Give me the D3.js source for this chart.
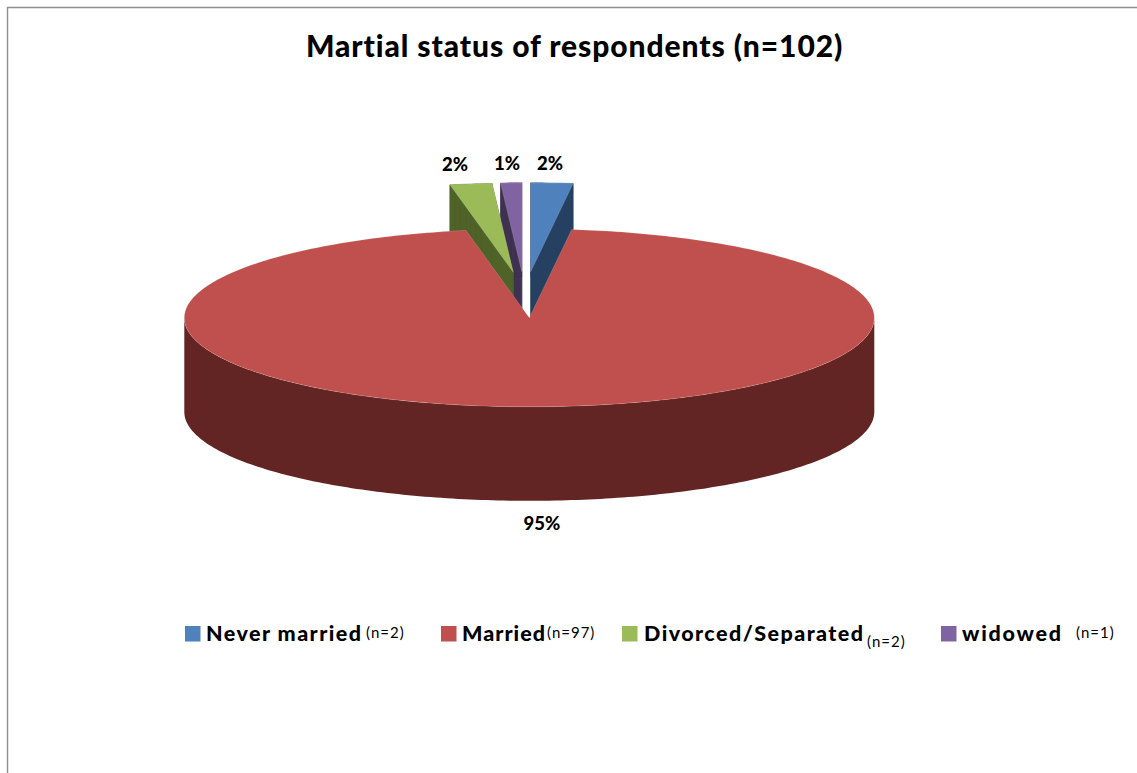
<!DOCTYPE html>
<html><head><meta charset="utf-8">
<script src="https://cdn.jsdelivr.net/npm/d3@7"></script>
<style>html,body{margin:0;padding:0;background:#fff}svg{display:block}text{font-family:Lato,"Open Sans",sans-serif;fill:#000}</style>
</head><body><svg id="c" width="1137" height="773"></svg>
<script>
const categories=["Never married","Married","Divorced/Separated","widowed"];
const counts=[2,97,2,1];
const countLabels=["(n=2)","(n=97)","(n=2)","(n=1)"];
const percentLabels=["2%","95%","2%","1%"];
const topColors=["#4F81BD","#C0504D","#9BBB59","#8064A2"];
const sideColors=["#254061","#632523","#4F6228","#3F3151"];
const titleText="Martial status of respondents (n=102)";

const W=1137,H=773,cx=529.3,cy=317.8,rx=345,ry=89,depth=94;
// exploded offset of each slice, px
const offX=[1.4,0,-16,-7.5],offY=[-46,0,-45.5,-46];
const labelPos=[[550,164],[542,524],[455,165],[507,164]];
const legendX=[[185,206,366],[441,462,547],[622,644,867],[941,962,1076]];
const legendW=[155,83,219,99];
const legendSubY=[633,633,642,633];

const svg=d3.select("#c");
svg.append("path").attr("d",`M7.5 ${H}V7.5H${W}`).attr("fill","none").attr("stroke","#8e8e8e").attr("stroke-width",1.4);

const arcs=d3.pie().sort(null).value(d=>d)(counts);
const px=d3.scaleLinear().domain([-1,1]).range([-rx,rx]);
const py=d3.scaleLinear().domain([-1,1]).range([ry,-ry]);
function ring(a0,a1,ox,oy,dy){const n=Math.max(2,Math.ceil((a1-a0)*60)),p=[];
  for(let i=0;i<=n;i++){const a=a0+(a1-a0)*i/n;p.push([cx+ox+px(Math.sin(a)),cy+oy+dy+py(Math.cos(a))]);}return p;}
const line=d3.line();
function topFace(s,i){const o=[cx+offX[i],cy+offY[i]];return line([o,...ring(s.startAngle,s.endAngle,offX[i],offY[i],0)])+"Z";}
function sideQuads(s,i){
  const t=ring(s.startAngle,s.endAngle,offX[i],offY[i],0),o=[cx+offX[i],cy+offY[i]];
  const all=[o,...t];const ext=all.map(p=>[p[0],p[1]+depth]);
  return all.map((p,k)=>{const m=(k+1)%all.length;return line([p,all[m],ext[m],ext[k]])+"Z";});
}
// painted back to front: widowed, divorced, never married, married
const order=[3,2,0,1];
order.forEach(i=>{const s=arcs[i];
  if(i===1){
    const a=ring(Math.PI/2,3*Math.PI/2,0,0,0);
    const b=ring(Math.PI/2,3*Math.PI/2,0,0,depth).reverse();
    svg.append("path").attr("d",line([...a,...b])+"Z").attr("fill",sideColors[i]);
  } else {
    const g=svg.append("g").attr("fill",sideColors[i]).attr("stroke",sideColors[i]).attr("stroke-width",.4);
    sideQuads(s,i).forEach(d=>g.append("path").attr("d",d));
  }
  svg.append("path").attr("d",topFace(s,i)).attr("fill",topColors[i]).attr("stroke","#ffffff").attr("stroke-opacity",.18).attr("stroke-width",.8);
});
percentLabels.forEach((t,i)=>svg.append("text").attr("x",labelPos[i][0]).attr("y",labelPos[i][1]+6).attr("text-anchor","middle").attr("font-size",18.5).attr("font-weight",900).text(t));

function fit(sel,w){const l=sel.node().getComputedTextLength();sel.attr("letter-spacing",((w-l)/Math.max(1,sel.text().length-1)).toFixed(2));}
const title=svg.append("text").attr("x",306).attr("y",57).attr("font-size",30).attr("font-weight",900).text(titleText);
fit(title,537);
categories.forEach((c,i)=>{const L=legendX[i];
  svg.append("rect").attr("x",L[0]).attr("y",626).attr("width",15.5).attr("height",15.5).attr("fill",topColors[i]);
  const t=svg.append("text").attr("x",L[1]).attr("y",641).attr("font-size",21.5).attr("font-weight",900).text(c);
  fit(t,legendW[i]);
  svg.append("text").attr("x",L[2]).attr("y",legendSubY[i]+5).attr("font-size",15).attr("letter-spacing",1).text(countLabels[i]);
});
</script></body></html>
